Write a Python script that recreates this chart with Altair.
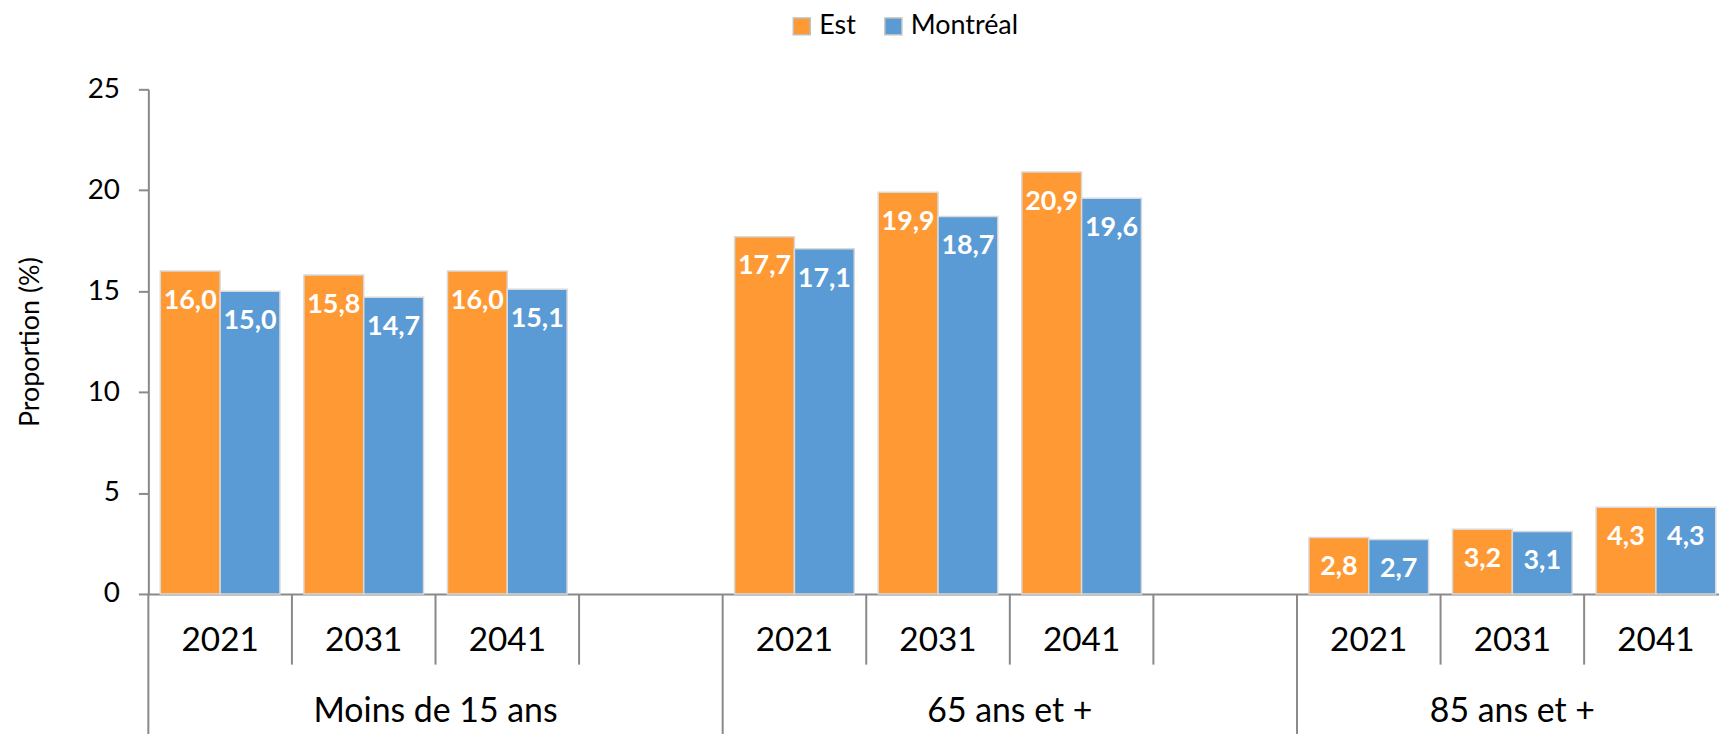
import altair as alt
import pandas as pd

# ---------------- data ----------------
groups = ["Moins de 15 ans", "65 ans et +", "85 ans et +"]
years = ["2021", "2031", "2041"]
series = ["Est", "Montréal"]
est_values = [16.0, 15.8, 16.0, 17.7, 19.9, 20.9, 2.8, 3.2, 4.3]
mtl_values = [15.0, 14.7, 15.1, 17.1, 18.7, 19.6, 2.7, 3.1, 4.3]
y_ticks = [0, 5, 10, 15, 20, 25]
colors = ["#FF9933", "#5B9BD5"]

# ---------------- tables ----------------
slot_rows = []
for gi, g in enumerate(groups):
    for yi, yr in enumerate(years + [""]):
        slot_rows.append({"slot": f"{gi}-{yi}", "year": yr, "group": g, "first": yi == 0})
slots = pd.DataFrame(slot_rows)
slot_domain = list(slots["slot"])

bar_rows = []
for gi, g in enumerate(groups):
    for yi, yr in enumerate(years):
        for s, vals in zip(series, [est_values, mtl_values]):
            v = vals[gi * 3 + yi]
            bar_rows.append({"slot": f"{gi}-{yi}", "series": s, "value": v,
                             "label": f"{v:.1f}".replace(".", ",")})
bars = pd.DataFrame(bar_rows)

grp_rows = [{"slot": f"{gi}-1", "group": g, "last": gi == len(groups) - 1}
            for gi, g in enumerate(groups)]
grp = pd.DataFrame(grp_rows)

# ---------------- geometry / style ----------------
W, H = 1578, 507
SLOT = 144.25
FONT = "Lato"
AXIS_GREY = "#898989"

xscale = alt.Scale(domain=slot_domain, range=[0, SLOT * len(slot_domain)],
                   paddingInner=0, paddingOuter=0)
xaxis = alt.Axis(labels=False, ticks=False, title=None, grid=False,
                 domainColor=AXIS_GREY, domainWidth=2)
yscale = alt.Scale(domain=[0, 25], nice=False)
yaxis = alt.Axis(values=y_ticks, title="Proportion (%)", grid=False,
                 domainColor=AXIS_GREY, domainWidth=2, tickColor=AXIS_GREY,
                 tickWidth=2, tickSize=10, labelFontSize=28, labelFont=FONT,
                 labelColor="black", labelPadding=19, titleFontSize=27,
                 titleFont=FONT, titleFontWeight="normal", titleColor="black",
                 titleX=-118, titleY=H / 2, titleAngle=270, titleAlign="center",
                 titleBaseline="middle")

X = lambda **kw: alt.X("slot:N", scale=xscale, axis=xaxis, **kw)
XO = lambda: alt.XOffset("series:N", scale=alt.Scale(domain=series, paddingInner=0, paddingOuter=0.2))

bar_layer = alt.Chart(bars).mark_bar(stroke="#D9D9D9", strokeWidth=1.5).encode(
    x=X(),
    xOffset=XO(),
    y=alt.Y("value:Q", scale=yscale, axis=yaxis),
    color=alt.Color("series:N", scale=alt.Scale(domain=series, range=colors),
                    legend=alt.Legend(title=None, orient="none", legendX=643, legendY=-77,
                                      direction="horizontal", symbolType="square",
                                      symbolSize=289, symbolStrokeColor="#BFBFBF",
                                      symbolStrokeWidth=1.5, symbolOpacity=1,
                                      labelFontSize=27, labelFont=FONT, labelColor="black",
                                      labelOffset=4, columnPadding=24)),
)

label_layer = alt.Chart(bars).mark_text(
    font=FONT, fontWeight="bold", fontSize=27, color="white", baseline="middle", dy=30
).encode(
    x=X(),
    xOffset=XO(),
    y=alt.Y("value:Q", scale=yscale, axis=yaxis),
    text="label:N",
)

sep_small = alt.Chart(slots).transform_filter("!datum.first").mark_rule(
    color=AXIS_GREY, strokeWidth=2
).encode(x=X(bandPosition=0), y=alt.value(H), y2=alt.value(H + 71))

sep_big = alt.Chart(slots).transform_filter("datum.first").mark_rule(
    color=AXIS_GREY, strokeWidth=2
).encode(x=X(bandPosition=0), y=alt.value(H), y2=alt.value(H + 160))

year_layer = alt.Chart(slots).mark_text(
    font=FONT, fontSize=33.5, color="black", baseline="middle"
).encode(x=X(), y=alt.value(H + 47), text="year:N")

grp_full = alt.Chart(grp).transform_filter("!datum.last").mark_text(
    font=FONT, fontSize=34, color="black", baseline="middle"
).encode(x=X(bandPosition=1), y=alt.value(H + 119), text="group:N")

grp_last = alt.Chart(grp).transform_filter("datum.last").mark_text(
    font=FONT, fontSize=34, color="black", baseline="middle"
).encode(x=X(bandPosition=0.5), y=alt.value(H + 119), text="group:N")

chart = alt.layer(
    bar_layer, label_layer, sep_small, sep_big, year_layer, grp_full, grp_last
).properties(
    width=W, height=H,
    padding={"left": 141, "top": 80, "right": 0, "bottom": 139},
    autosize=alt.AutoSizeParams(type="none"),
).configure_view(stroke=None)

chart.save("out.html", embed_options={"renderer": "svg", "actions": False})
